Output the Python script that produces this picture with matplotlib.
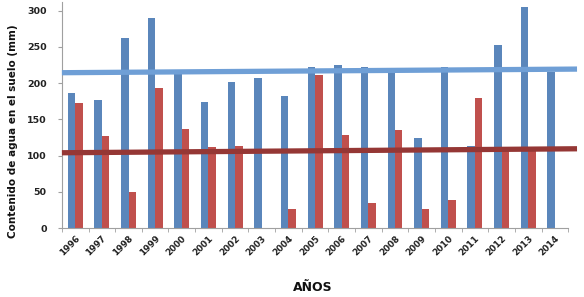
import matplotlib
matplotlib.use("Agg")
import matplotlib.pyplot as plt
import numpy as np

years = ["1996", "1997", "1998", "1999", "2000", "2001", "2002", "2003", "2004", "2005",
         "2006", "2007", "2008", "2009", "2010", "2011", "2012", "2013", "2014"]
blue_vals = [186, 177, 263, 290, 213, 174, 201, 207, 183, 222,
             225, 222, 216, 125, 222, 114, 253, 305, 215]
red_vals = [172, 127, 50, 193, 137, 112, 113, 0, 26, 212,
            129, 34, 135, 26, 39, 180, 106, 107, 0]
# trend line values at the left and right ends
blue_trend = [214.5, 219.5]
red_trend = [104.0, 109.5]
y_ticks = [0, 50, 100, 150, 200, 250, 300]

fig = plt.figure(figsize=(5.84, 2.97), dpi=100)
ax = fig.add_axes([0.106, 0.232, 0.867, 0.761])

x = np.arange(len(years))
w = 0.28
ax.bar(x - w / 2, blue_vals, width=w, color="#5a86bb", zorder=2)
ax.bar(x + w / 2, red_vals, width=w, color="#c0504d", zorder=2)

xl, xr = -0.5, 18.83
ax.plot([xl, xr], blue_trend, color="#6f9fd6", lw=3.8, zorder=3, clip_on=False,
        solid_capstyle="butt")
ax.plot([xl, xr], red_trend, color="#953735", lw=3.8, zorder=3, clip_on=False,
        solid_capstyle="butt")

ax.set_xlim(-0.5, 18.5)
ax.set_ylim(0, 312)
ax.set_yticks(y_ticks)
ax.set_yticklabels([str(t) for t in y_ticks], fontsize=6.8, fontweight="bold", color="#222222")
ax.set_xticks(x)
ax.set_xticklabels(years, rotation=45, ha="right", rotation_mode="anchor",
                   fontsize=6.3, fontweight="bold", color="#222222")
ax.tick_params(axis="x", length=0, pad=4)
ax.set_xticks(np.arange(-0.5, 19, 1), minor=True)
ax.tick_params(axis="x", which="minor", length=3, color="#a0a0a0", direction="out")
ax.tick_params(axis="y", length=3, color="#a0a0a0", pad=8)

for s in ["top", "right"]:
    ax.spines[s].set_visible(False)
for s in ["left", "bottom"]:
    ax.spines[s].set_color("#a0a0a0")
    ax.spines[s].set_linewidth(0.8)

fig.text(0.022, 0.557, "Contenido de agua en el suelo (mm)", rotation=90, ha="center",
         va="center", fontsize=7.5, fontweight="bold", color="#111111")
fig.text(0.535, 0.032, "AÑOS", ha="center", va="center", fontsize=9,
         fontweight="bold", color="#111111")

fig.savefig("out.png", dpi=100)
